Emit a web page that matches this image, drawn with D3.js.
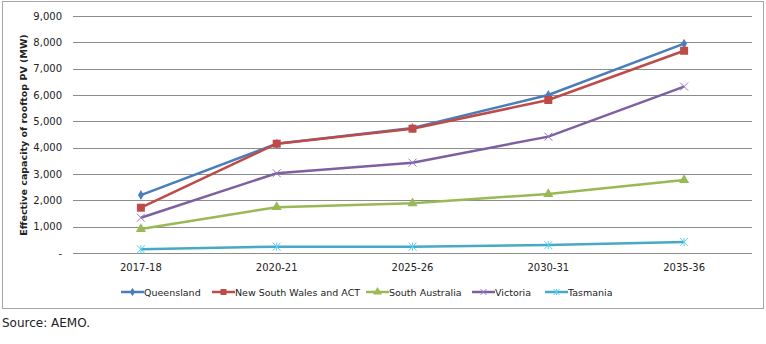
<!DOCTYPE html>
<html>
<head>
<meta charset="utf-8">
<script src="https://cdn.jsdelivr.net/npm/d3@7"></script>
<style>
  body { margin: 0; background: #fff; }
  svg text { font-family: "DejaVu Sans", Verdana, sans-serif; }
</style>
</head>
<body>
<script>
var years = ["2017-18", "2020-21", "2025-26", "2030-31", "2035-36"];
var yTicks = [0, 1000, 2000, 3000, 4000, 5000, 6000, 7000, 8000, 9000];

var queensland = [2200, 4150, 4750, 6000, 7950];
var nsw = [1720, 4150, 4720, 5810, 7680];
var southAus = [910, 1740, 1890, 2240, 2770];
var victoria = [1340, 3030, 3430, 4420, 6320];
var tasmania = [140, 240, 240, 300, 420];

var seriesNames = ["Queensland", "New South Wales and ACT", "South Australia", "Victoria", "Tasmania"];
var seriesColors = ["#4A7EBB", "#BE4B48", "#98B954", "#7D60A0", "#46AAC5"];
var seriesMarkers = ["diamond", "square", "triangle", "x", "star"];
var seriesValues = [queensland, nsw, southAus, victoria, tasmania];

var series = seriesNames.map(function(n, i) {
  return { name: n, color: seriesColors[i], marker: seriesMarkers[i], values: seriesValues[i] };
});

var width = 766, height = 344;
var svg = d3.select("body").append("svg")
  .attr("width", width)
  .attr("height", height);

// chart frame
svg.append("rect")
  .attr("x", 2.5).attr("y", 1.5)
  .attr("width", 761).attr("height", 307)
  .attr("fill", "none")
  .attr("stroke", "#a6a6a6")
  .attr("stroke-width", 1);

var x = d3.scaleBand().domain(years).range([73, 752]);
var y = d3.scaleLinear().domain([0, 9000]).range([253, 16]);

// gridlines
svg.append("g")
  .selectAll("line")
  .data(yTicks)
  .enter()
  .append("line")
  .attr("x1", 73).attr("x2", 752)
  .attr("y1", function(d) { return Math.round(y(d)) + 0.5; })
  .attr("y2", function(d) { return Math.round(y(d)) + 0.5; })
  .attr("stroke", "#8c8c8c")
  .attr("stroke-width", 1);

// y axis labels
var yAxis = d3.axisLeft(y)
  .tickValues(yTicks)
  .tickSize(0)
  .tickPadding(0)
  .tickFormat(function(d) { return d === 0 ? "-" : d3.format(",")(d); });

var yg = svg.append("g").attr("transform", "translate(62,0)").call(yAxis);
yg.select(".domain").remove();
yg.selectAll("text").attr("font-size", 10).attr("fill", "#222")
  .style("font-family", "'DejaVu Sans', Verdana, sans-serif");

// x axis labels
var xAxis = d3.axisBottom(x).tickSize(0).tickPadding(0);
var xg = svg.append("g").attr("transform", "translate(0,264)").call(xAxis);
xg.select(".domain").remove();
xg.selectAll("text").attr("font-size", 10).attr("fill", "#222")
  .style("font-family", "'DejaVu Sans', Verdana, sans-serif");

// y axis title
svg.append("text")
  .attr("transform", "translate(27,135) rotate(-90)")
  .attr("text-anchor", "middle")
  .attr("font-size", 9.5)
  .attr("font-weight", "bold")
  .attr("fill", "#222")
  .text("Effective capacity of rooftop PV (MW)");

function drawMarker(g, type, color, cx, cy, s) {
  if (type === "diamond") {
    g.append("path")
      .attr("d", d3.symbol().type(d3.symbolDiamond).size(s * 3.6)())
      .attr("transform", "translate(" + cx + "," + cy + ")")
      .attr("fill", color);
  } else if (type === "square") {
    g.append("rect")
      .attr("x", cx - s / 2).attr("y", cy - s / 2)
      .attr("width", s).attr("height", s)
      .attr("fill", color);
  } else if (type === "triangle") {
    g.append("path")
      .attr("d", d3.symbol().type(d3.symbolTriangle).size(s * 5.5)())
      .attr("transform", "translate(" + cx + "," + cy + ")")
      .attr("fill", color);
  } else if (type === "x" || type === "star") {
    var h = s / 2;
    g.append("path")
      .attr("d", "M" + (cx - h) + "," + (cy - h) + "L" + (cx + h) + "," + (cy + h) +
        "M" + (cx - h) + "," + (cy + h) + "L" + (cx + h) + "," + (cy - h) +
        (type === "star" ? "M" + cx + "," + (cy - h) + "L" + cx + "," + (cy + h) : ""))
      .attr("stroke", d3.color(color).brighter(0.6))
      .attr("stroke-width", 1)
      .attr("fill", "none");
  }
}

var line = d3.line()
  .x(function(d, i) { return x(years[i]) + x.bandwidth() / 2; })
  .y(function(d) { return y(d); });

series.forEach(function(s) {
  var g = svg.append("g");
  g.append("path")
    .datum(s.values)
    .attr("d", line)
    .attr("fill", "none")
    .attr("stroke", s.color)
    .attr("stroke-width", 2.5);
  s.values.forEach(function(v, i) {
    drawMarker(g, s.marker, s.color, x(years[i]) + x.bandwidth() / 2, y(v), 8);
  });
});

// legend
var legendX = [121, 212, 366, 472, 545];
series.forEach(function(s, i) {
  var g = svg.append("g");
  var lx = legendX[i], ly = 292;
  g.append("line")
    .attr("x1", lx).attr("x2", lx + 23)
    .attr("y1", ly).attr("y2", ly)
    .attr("stroke", s.color)
    .attr("stroke-width", 2.5);
  drawMarker(g, s.marker, s.color, lx + 11.5, ly, 6);
  g.append("text")
    .attr("x", lx + 23).attr("y", ly + 3.5)
    .attr("font-size", 9.5)
    .attr("fill", "#222")
    .text(s.name);
});

svg.append("text")
  .attr("x", 2).attr("y", 327)
  .attr("font-size", 12)
  .attr("fill", "#222")
  .style("font-family", "Verdana, 'DejaVu Sans', sans-serif")
  .text("Source: AEMO.");
</script>
</body>
</html>
